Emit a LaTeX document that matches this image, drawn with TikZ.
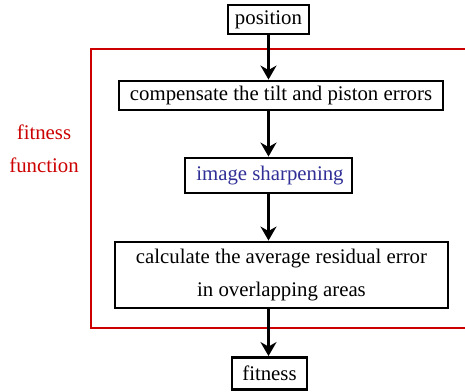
\documentclass[tikz,border=0pt]{standalone}
\usepackage{fontspec}
\setmainfont{Liberation Serif}
\usetikzlibrary{arrows.meta}
\definecolor{fred}{RGB}{204,0,0}
\definecolor{fblue}{RGB}{48,48,150}
\tikzset{
  box/.style={draw=black, line width=2.9pt, inner sep=0pt, align=center, font=\fontsize{20.8}{33}\selectfont},
  flow/.style={line width=2.9pt, -{Stealth[length=14pt,width=16pt,inset=4.5pt]}},
}
\begin{document}
\begin{tikzpicture}[x=1pt,y=-1pt]
\clip (0,0) rectangle (465,391);
\useasboundingbox (0,0) rectangle (465,391);
\draw[fred, line width=2.2pt] (91,49) rectangle (480,328);
\node[box, minimum width=81pt, minimum height=29pt] (pos) at (268.5,19.5) {position};
\node[box, minimum width=324pt, minimum height=29pt] (comp) at (281,95.5) {compensate the tilt and piston errors};
\node[box, minimum width=167pt, minimum height=35pt, text=fblue] (sharp) at (268.5,175.5) {\hspace*{3pt}image sharpening};
\node[box, minimum width=333pt, minimum height=66pt] (calc) at (281.5,275) {calculate the average residual error\\in overlapping areas};
\node[box, minimum width=75pt, minimum height=32pt] (fit) at (269.5,373.5) {fitness};
\node[text=fred, font=\fontsize{20.8}{24}\selectfont] (lab1) at (44,132) {fitness};
\node[text=fred, font=\fontsize{20.8}{24}\selectfont] (lab2) at (44,165) {function};
\draw[flow] (pos.south) -- (pos.south |- comp.north);
\draw[flow] (comp.south -| pos.south) -- (sharp.north -| pos.south);
\draw[flow] (sharp.south -| pos.south) -- (calc.north -| pos.south);
\draw[flow] (calc.south -| pos.south) -- (fit.north -| pos.south);
\end{tikzpicture}
\end{document}
